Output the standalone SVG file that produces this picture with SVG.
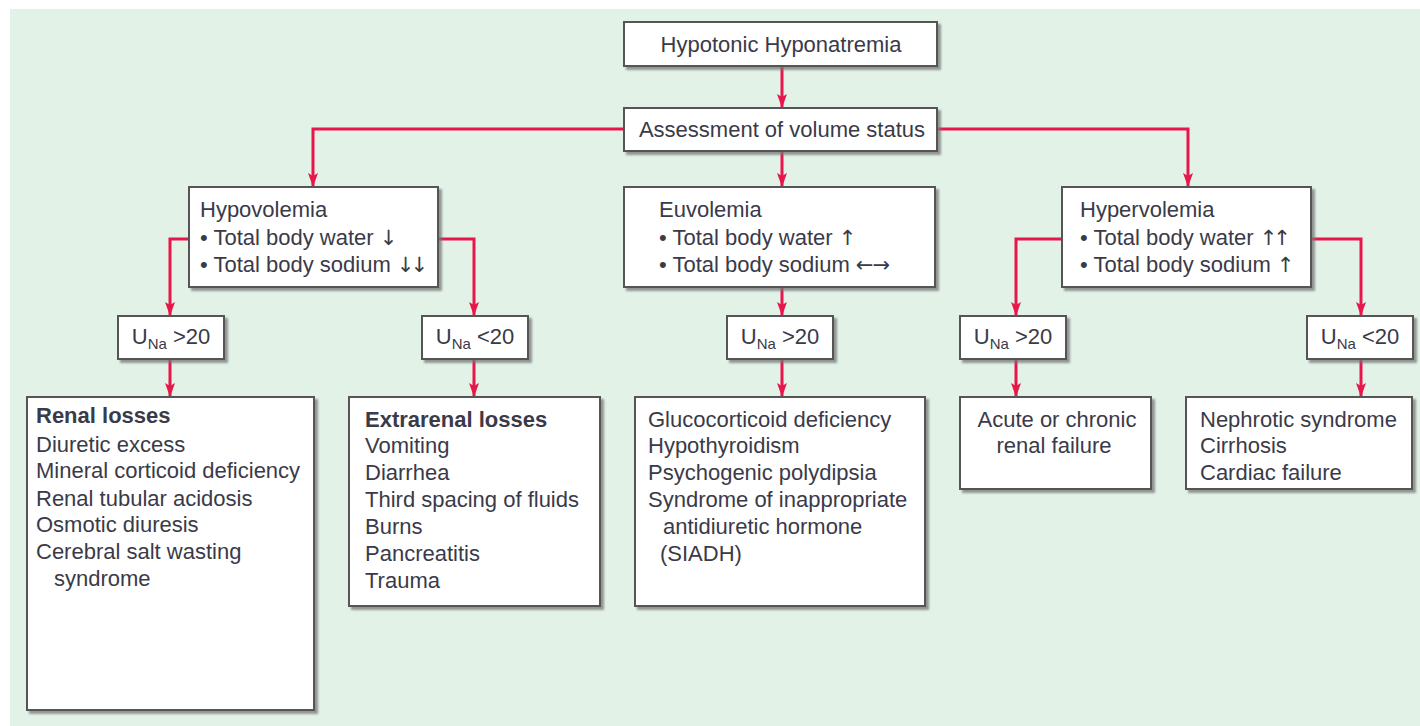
<svg xmlns="http://www.w3.org/2000/svg" width="1420" height="726" viewBox="0 0 1420 726">
  <defs>
    <style>
      .bg { fill: #e2f2e7; }
      .box { fill: #ffffff; stroke: #555555; stroke-width: 2; filter: url(#sh); }
      .t { font-family: "Liberation Sans", Arial, Helvetica, sans-serif; font-size: 22px; fill: #3a3a48; }
      .ar { font-family: "DejaVu Sans", sans-serif; font-size: 21px; fill: #3a3a48; letter-spacing: -4px; }
      .lr { letter-spacing: -1px; }
      .b { font-weight: bold; }
      .m { text-anchor: middle; }
      .sub { font-size: 15px; }
      .c { fill: none; stroke: #e8174b; stroke-width: 3; marker-end: url(#ah); }
    </style>
    <filter id="sh" x="-10%" y="-10%" width="130%" height="130%">
      <feDropShadow dx="3" dy="3" stdDeviation="1" flood-color="#777777" flood-opacity="0.75"/>
    </filter>
    <marker id="ah" viewBox="0 0 14 10" refX="14" refY="5" markerWidth="14" markerHeight="10" markerUnits="userSpaceOnUse" orient="auto">
      <path d="M0,0 L14,5 L0,10 L3,5 Z" fill="#e8174b"/>
    </marker>
  </defs>

  <rect class="bg" x="10" y="9" width="1410" height="717"/>

  <g id="connectors">
    <path class="c" d="M782,66 L782,108"/>
    <path class="c" d="M782,151 L782,187"/>
    <path class="c" d="M624,129 L313,129 L313,187"/>
    <path class="c" d="M937,129 L1188,129 L1188,187"/>
    <path class="c" d="M189,239 L170,239 L170,316"/>
    <path class="c" d="M438,239 L474,239 L474,316"/>
    <path class="c" d="M782,287 L782,316"/>
    <path class="c" d="M1062,239 L1016,239 L1016,316"/>
    <path class="c" d="M1311,239 L1361,239 L1361,316"/>
    <path class="c" d="M170,359 L170,397"/>
    <path class="c" d="M474,359 L474,397"/>
    <path class="c" d="M782,359 L782,397"/>
    <path class="c" d="M1016,359 L1016,397"/>
    <path class="c" d="M1361,359 L1361,397"/>
  </g>

  <g id="hypotonic">
    <rect class="box" x="624" y="22" width="313" height="44"/>
    <text class="t m" x="781" y="52">Hypotonic Hyponatremia</text>
  </g>

  <g id="assessment">
    <rect class="box" x="624" y="108" width="313" height="43"/>
    <text class="t m" x="782" y="137">Assessment of volume status</text>
  </g>

  <g id="hypovolemia">
    <rect class="box" x="189" y="187" width="249" height="100"/>
    <text class="t" x="200" y="217">Hypovolemia</text>
    <text class="t" x="200" y="245">• Total body water <tspan class="ar">↓</tspan></text>
    <text class="t" x="200" y="272">• Total body sodium <tspan class="ar">↓↓</tspan></text>
  </g>

  <g id="euvolemia">
    <rect class="box" x="624" y="187" width="311" height="100"/>
    <text class="t" x="659" y="217">Euvolemia</text>
    <text class="t" x="659" y="245">• Total body water <tspan class="ar">↑</tspan></text>
    <text class="t" x="659" y="272">• Total body sodium <tspan class="ar lr">←→</tspan></text>
  </g>

  <g id="hypervolemia">
    <rect class="box" x="1062" y="187" width="249" height="100"/>
    <text class="t" x="1080" y="217">Hypervolemia</text>
    <text class="t" x="1080" y="245">• Total body water <tspan class="ar">↑↑</tspan></text>
    <text class="t" x="1080" y="272">• Total body sodium <tspan class="ar">↑</tspan></text>
  </g>

  <g id="una-hypo-high">
    <rect class="box" x="118" y="316" width="106" height="43"/>
    <text class="t m" x="171" y="344">U<tspan class="sub" dy="5">Na</tspan><tspan dy="-5"> &gt;20</tspan></text>
  </g>

  <g id="una-hypo-low">
    <rect class="box" x="422" y="316" width="106" height="43"/>
    <text class="t m" x="475" y="344">U<tspan class="sub" dy="5">Na</tspan><tspan dy="-5"> &lt;20</tspan></text>
  </g>

  <g id="una-eu-high">
    <rect class="box" x="727" y="316" width="106" height="43"/>
    <text class="t m" x="780" y="344">U<tspan class="sub" dy="5">Na</tspan><tspan dy="-5"> &gt;20</tspan></text>
  </g>

  <g id="una-hyper-high">
    <rect class="box" x="960" y="316" width="106" height="43"/>
    <text class="t m" x="1013" y="344">U<tspan class="sub" dy="5">Na</tspan><tspan dy="-5"> &gt;20</tspan></text>
  </g>

  <g id="una-hyper-low">
    <rect class="box" x="1307" y="316" width="106" height="43"/>
    <text class="t m" x="1360" y="344">U<tspan class="sub" dy="5">Na</tspan><tspan dy="-5"> &lt;20</tspan></text>
  </g>

  <g id="renal-losses">
    <rect class="box" x="27" y="397" width="287" height="313"/>
    <text class="t b" x="36" y="423">Renal losses</text>
    <text class="t" x="36" y="452">Diuretic excess</text>
    <text class="t" x="36" y="478">Mineral corticoid deficiency</text>
    <text class="t" x="36" y="506">Renal tubular acidosis</text>
    <text class="t" x="36" y="532">Osmotic diuresis</text>
    <text class="t" x="36" y="559">Cerebral salt wasting</text>
    <text class="t" x="54" y="586">syndrome</text>
  </g>

  <g id="extrarenal-losses">
    <rect class="box" x="349" y="397" width="251" height="209"/>
    <text class="t b" x="365" y="427">Extrarenal losses</text>
    <text class="t" x="365" y="453">Vomiting</text>
    <text class="t" x="365" y="480">Diarrhea</text>
    <text class="t" x="365" y="507">Third spacing of fluids</text>
    <text class="t" x="365" y="534">Burns</text>
    <text class="t" x="365" y="561">Pancreatitis</text>
    <text class="t" x="365" y="588">Trauma</text>
  </g>

  <g id="euvolemia-causes">
    <rect class="box" x="635" y="397" width="290" height="209"/>
    <text class="t" x="648" y="427">Glucocorticoid deficiency</text>
    <text class="t" x="648" y="453">Hypothyroidism</text>
    <text class="t" x="648" y="480">Psychogenic polydipsia</text>
    <text class="t" x="648" y="507">Syndrome of inappropriate</text>
    <text class="t" x="663" y="534">antidiuretic hormone</text>
    <text class="t" x="660" y="561">(SIADH)</text>
  </g>

  <g id="renal-failure">
    <rect class="box" x="960" y="397" width="191" height="92"/>
    <text class="t m" x="1057" y="427">Acute or chronic</text>
    <text class="t m" x="1054" y="453">renal failure</text>
  </g>

  <g id="hypervolemia-causes">
    <rect class="box" x="1186" y="397" width="226" height="92"/>
    <text class="t" x="1200" y="427">Nephrotic syndrome</text>
    <text class="t" x="1200" y="453">Cirrhosis</text>
    <text class="t" x="1200" y="480">Cardiac failure</text>
  </g>
</svg>
